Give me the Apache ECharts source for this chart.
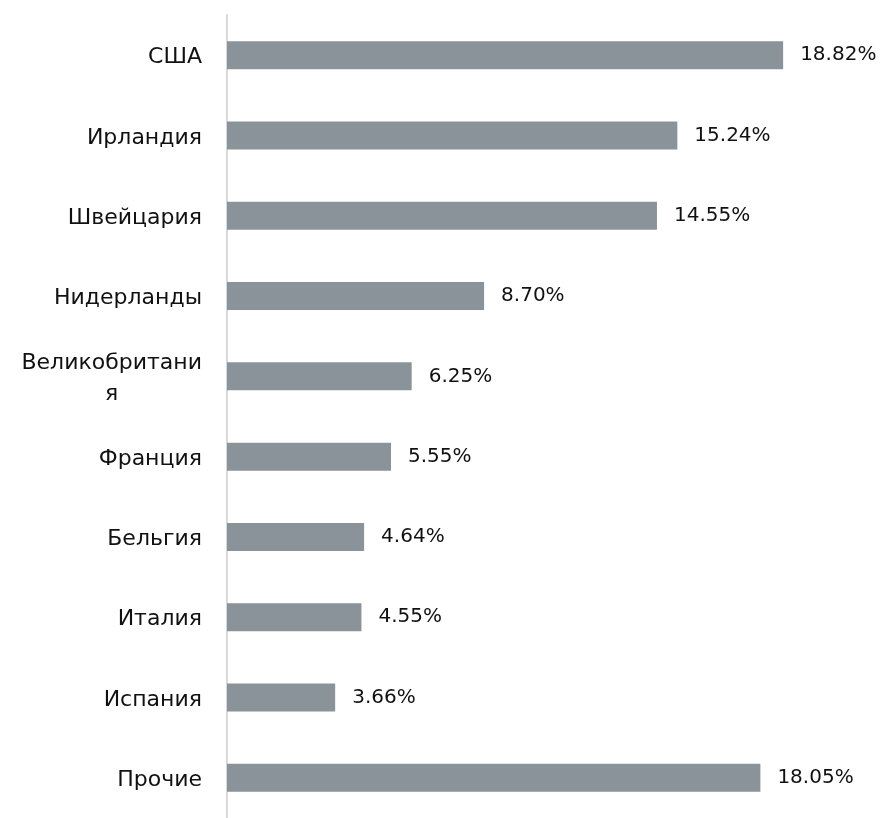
<!DOCTYPE html>
<html>
<head>
<meta charset="utf-8">
<script src="https://cdn.jsdelivr.net/npm/echarts@6/dist/echarts.min.js"></script>
<style>
  html, body { margin: 0; padding: 0; background: #fff; }
  #main { width: 885px; height: 818px; }
</style>
</head>
<body>
<div id="main"></div>
<script>
// страны (сверху вниз) и их доли, %
var countries = ['США', 'Ирландия', 'Швейцария', 'Нидерланды', 'Великобритания',
                 'Франция', 'Бельгия', 'Италия', 'Испания', 'Прочие'];
var shares = [18.82, 15.24, 14.55, 8.70, 6.25, 5.55, 4.64, 4.55, 3.66, 18.05];

var chart = echarts.init(document.getElementById('main'));

var option = {
    animation: false,
    grid: {
        left: 227,
        top: 15,
        width: 591,
        height: 809
    },
    xAxis: {
        type: 'value',
        min: 0,
        max: 20,
        show: false
    },
    yAxis: {
        type: 'category',
        inverse: true,
        data: countries,
        axisTick: { show: false },
        axisLine: {
            lineStyle: { color: '#d9d9d9', width: 2 }
        },
        axisLabel: {
            margin: 25,
            color: '#111',
            fontSize: 22,
            fontFamily: 'DejaVu Sans',
            padding: [5, 0, 0, 0],
            formatter: function (v) {
                // длинные названия переносим, строки по центру
                if (v.length > 13) {
                    return '{c|' + v.slice(0, 13) + '}\n{c|' + v.slice(13) + '}';
                }
                return v;
            },
            rich: {
                c: {
                    align: 'center',
                    fontSize: 22,
                    fontFamily: 'DejaVu Sans',
                    color: '#111',
                    lineHeight: 31
                }
            }
        }
    },
    series: [{
        type: 'bar',
        data: shares,
        barWidth: 28,
        itemStyle: { color: '#8a9399' },
        label: {
            show: true,
            position: 'right',
            distance: 17,
            color: '#111',
            fontSize: 20,
            fontFamily: 'DejaVu Sans',
            formatter: function (p) { return p.value.toFixed(2) + '%'; }
        }
    }]
};

chart.setOption(option);
</script>
</body>
</html>
